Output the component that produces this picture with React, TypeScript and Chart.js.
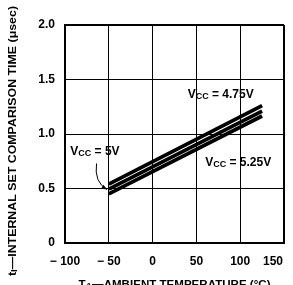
import React, { useEffect, useRef } from 'react';
import { Chart, registerables } from 'chart.js';

Chart.register(...registerables);

// Data
const temps = [-50, 125];
const vcc475 = [0.54, 1.26];
const vcc500 = [0.495, 1.21];
const vcc525 = [0.45, 1.165];

const xTicks = [-100, -50, 0, 50, 100, 150];
const yTicks = [0, 0.5, 1.0, 1.5, 2.0];

const yTitle = [
  { t: 't', sub: false },
  { t: 'I', sub: true },
  { t: '—INTERNAL SET COMPARISON TIME (μsec)', sub: false },
];
const xTitle = [
  { t: 'T', sub: false },
  { t: 'A', sub: true },
  { t: '—AMBIENT TEMPERATURE (°C)', sub: false },
];

const labels = [
  { x: 40, y: 1.36, parts: [{ t: 'V', sub: false }, { t: 'CC', sub: true }, { t: ' = 4.75V', sub: false }] },
  { x: -94, y: 0.835, parts: [{ t: 'V', sub: false }, { t: 'CC', sub: true }, { t: ' = 5V', sub: false }] },
  { x: 60, y: 0.74, parts: [{ t: 'V', sub: false }, { t: 'CC', sub: true }, { t: ' = 5.25V', sub: false }] },
];

const FONT = '"Liberation Sans", Arial, sans-serif';

const pts = (ys: number[]) => temps.map((t, i) => ({ x: t, y: ys[i] }));

function drawParts(
  ctx: CanvasRenderingContext2D,
  parts: { t: string; sub: boolean }[],
  x: number,
  y: number,
  size: number,
  subSize: number,
  align: 'left' | 'center',
  targetWidth?: number
) {
  const widths = parts.map((p) => {
    ctx.font = `bold ${p.sub ? subSize : size}px ${FONT}`;
    return ctx.measureText(p.t).width;
  });
  const total = widths.reduce((a, b) => a + b, 0);
  const k = targetWidth ? targetWidth / total : 1;
  ctx.save();
  ctx.translate(x, y);
  ctx.scale(k, 1);
  let cx = align === 'center' ? -total / 2 : 0;
  ctx.textAlign = 'left';
  ctx.textBaseline = 'middle';
  parts.forEach((p, i) => {
    ctx.font = `bold ${p.sub ? subSize : size}px ${FONT}`;
    ctx.fillText(p.t, cx, p.sub ? 2 : 0);
    cx += widths[i];
  });
  ctx.restore();
}

const decor = {
  id: 'decor',
  afterDraw(chart: any) {
    const ctx: CanvasRenderingContext2D = chart.ctx;
    const xs = chart.scales.x;
    const ys = chart.scales.y;
    const area = chart.chartArea;
    ctx.save();
    ctx.fillStyle = '#000';
    ctx.strokeStyle = '#000';

    // x tick labels
    ctx.font = `bold 12px ${FONT}`;
    ctx.textBaseline = 'middle';
    ctx.textAlign = 'center';
    xTicks.forEach((v) => {
      const txt = v < 0 ? '\u2212 ' + Math.abs(v) : String(v);
      let px = xs.getPixelForValue(v);
      const w = ctx.measureText(txt).width;
      if (px + w / 2 > chart.width - 1) px = chart.width - 1 - w / 2 - 9;
      ctx.fillText(txt, px, area.bottom + 19);
    });

    // y title
    ctx.save();
    ctx.translate(13, (area.top + area.bottom) / 2 + 7);
    ctx.rotate(-Math.PI / 2);
    drawParts(ctx, yTitle, 0, 0, 11.5, 9, 'center', 270);
    ctx.restore();

    // x title
    drawParts(ctx, xTitle, (area.left + area.right) / 2, area.bottom + 42, 11.5, 9, 'center', 192);

    // annotations
    labels.forEach((l) => {
      drawParts(ctx, l.parts, xs.getPixelForValue(l.x), ys.getPixelForValue(l.y), 12, 9, 'left');
    });

    // arrow
    const sx = xs.getPixelForValue(-64), sy = ys.getPixelForValue(0.73);
    const ex = xs.getPixelForValue(-52), ey = ys.getPixelForValue(0.49);
    const cx = xs.getPixelForValue(-67), cy = ys.getPixelForValue(0.56);
    ctx.lineWidth = 1;
    ctx.beginPath();
    ctx.moveTo(sx, sy);
    ctx.quadraticCurveTo(cx, cy, ex, ey);
    ctx.stroke();
    const ang = Math.atan2(ey - cy, ex - cx);
    ctx.beginPath();
    ctx.moveTo(ex, ey);
    ctx.lineTo(ex - 6 * Math.cos(ang - 0.4), ey - 6 * Math.sin(ang - 0.4));
    ctx.lineTo(ex - 6 * Math.cos(ang + 0.4), ey - 6 * Math.sin(ang + 0.4));
    ctx.closePath();
    ctx.fill();

    ctx.restore();
  },
};

export default function App() {
  const ref = useRef<HTMLCanvasElement>(null);
  useEffect(() => {
    if (!ref.current) return;
    const ds = (ys: number[], label: string) => ({
      label,
      data: pts(ys),
      showLine: true,
      borderColor: '#000',
      backgroundColor: '#000',
      borderWidth: 3.7,
      borderCapStyle: 'butt' as const,
      pointRadius: 0,
    });
    const chart = new Chart(ref.current, {
      type: 'scatter',
      data: {
        datasets: [ds(vcc475, 'VCC = 4.75V'), ds(vcc500, 'VCC = 5V'), ds(vcc525, 'VCC = 5.25V')],
      },
      options: {
        animation: false,
        responsive: false,
        devicePixelRatio: 1,
        layout: { padding: { top: 25, right: 9, left: 0, bottom: 0 } },
        plugins: { legend: { display: false }, tooltip: { enabled: false } },
        scales: {
          x: {
            type: 'linear',
            min: -100,
            max: 150,
            afterBuildTicks: (s: any) => { s.ticks = xTicks.map((v) => ({ value: v })); },
            afterFit: (s: any) => { s.height = 42; },
            ticks: { display: false },
            grid: {
              color: '#000',
              lineWidth: (c: any) => (c.index === 0 || c.index === xTicks.length - 1 ? 2 : 1),
              drawTicks: false,
            },
            border: { color: '#000', width: 2 },
          },
          y: {
            type: 'linear',
            min: 0,
            max: 2,
            afterBuildTicks: (s: any) => { s.ticks = yTicks.map((v) => ({ value: v })); },
            afterFit: (s: any) => { s.width = 65; },
            ticks: {
              color: '#000',
              padding: 10,
              font: { family: FONT, size: 12, weight: 'bold' },
              callback: (v: any) => (Number(v) === 0 ? '0' : Number(v).toFixed(1)),
            },
            grid: {
              color: '#000',
              lineWidth: (c: any) => (c.index === 0 || c.index === yTicks.length - 1 ? 2 : 1),
              drawTicks: false,
            },
            border: { color: '#000', width: 2 },
          },
        },
      },
      plugins: [decor],
    });
    return () => chart.destroy();
  }, []);
  return (
    <div style={{ position: 'fixed', left: 0, top: 0, width: 293, height: 285, background: '#fff' }}>
      <canvas ref={ref} width={293} height={285} style={{ width: 293, height: 285, display: 'block' }} />
    </div>
  );
}
